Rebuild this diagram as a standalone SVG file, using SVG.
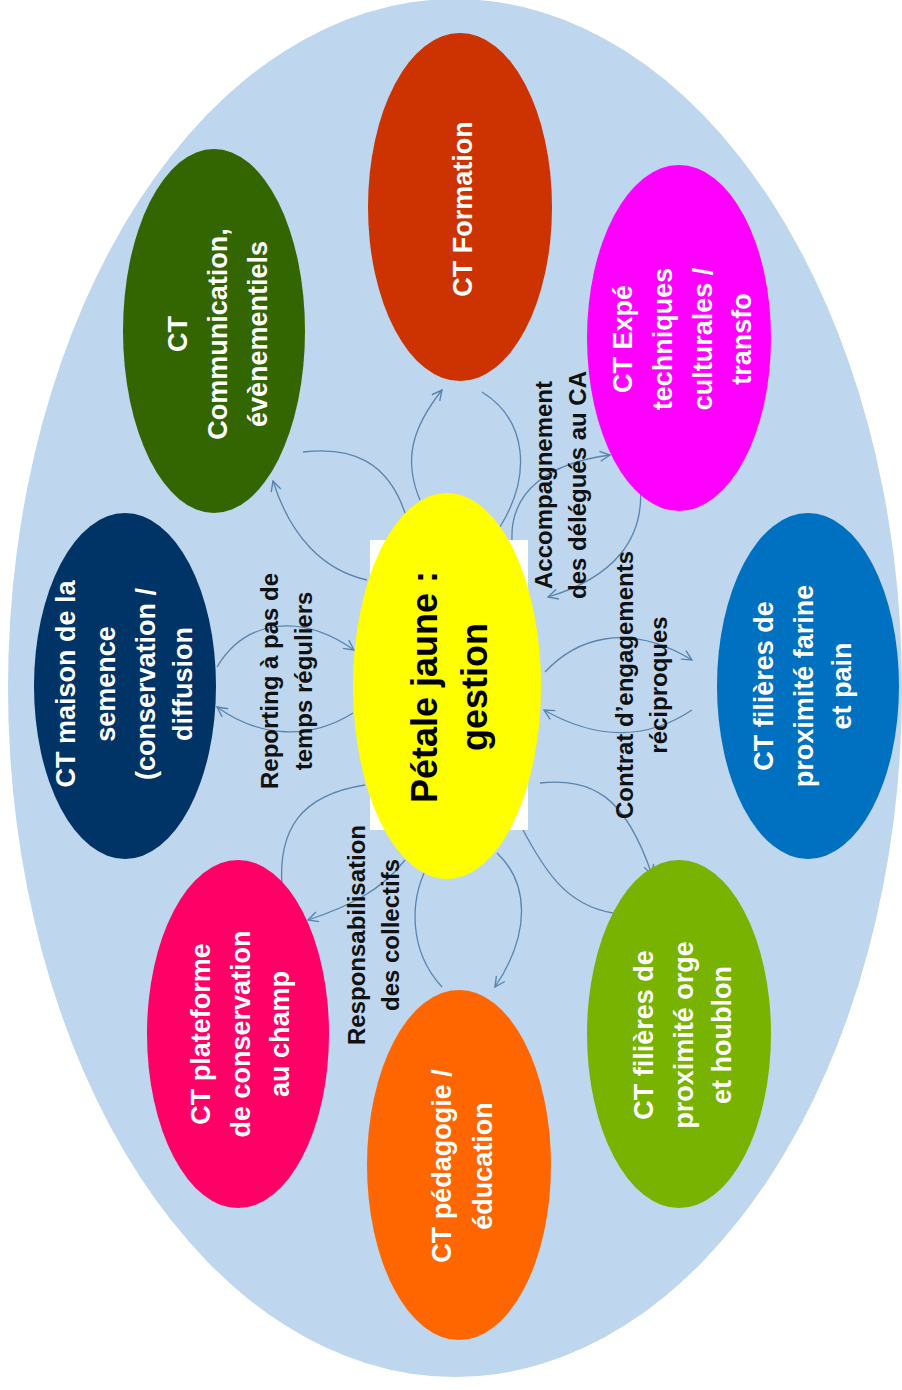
<svg xmlns="http://www.w3.org/2000/svg" width="902" height="1390" viewBox="0 0 902 1390">
<defs>
<marker id="arr" viewBox="0 0 12 12" refX="11" refY="6" markerWidth="12" markerHeight="12" markerUnits="userSpaceOnUse" orient="auto">
<path d="M1,1 L11,6 L1,11" fill="none" stroke="#5b84ad" stroke-width="1.4"/>
</marker>
<style>
.n{font-family:"Liberation Sans",Arial,sans-serif;font-weight:bold;font-size:27px;fill:#ffffff;text-anchor:middle}
.l{font-family:"Liberation Sans",Arial,sans-serif;font-weight:bold;font-size:24px;fill:#111111;text-anchor:middle}
.c{font-family:"Liberation Sans",Arial,sans-serif;font-weight:bold;font-size:36px;fill:#000000;text-anchor:middle}
.e{fill:none;stroke:#5b84ad;stroke-width:1.3}
.a{marker-end:url(#arr)}
</style>
</defs>
<rect x="0" y="0" width="902" height="1390" fill="#ffffff"/>
<ellipse id="background" cx="455" cy="688" rx="447" ry="689" fill="#bed6ee"/>
<g id="connectors">
<path class="e a" d="M367,580 C322,570 290,535 273,481"/>
<path class="e" d="M303,452 C352,446 388,462 405,513"/>
<path class="e a" d="M420,500 C403,460 412,428 442,390"/>
<path class="e" d="M482,392 C527,420 532,475 500,527"/>
<path class="e a" d="M512,540 C510,490 550,463 610,455"/>
<path class="e a" d="M640,483 C646,540 612,578 548,597"/>
<path class="e a" d="M545,672 C575,640 625,620 692,660"/>
<path class="e a" d="M692,710 C650,738 600,742 544,710"/>
<path class="e a" d="M540,783 C592,778 625,795 652,875"/>
<path class="e" d="M613,913 C565,905 545,872 515,815"/>
<path class="e a" d="M497,853 C528,882 532,932 495,987"/>
<path class="e" d="M442,987 C408,950 410,900 427,867"/>
<path class="e a" d="M405,860 C382,890 350,906 308,920"/>
<path class="e" d="M282,887 C278,830 300,795 365,785"/>
<path class="e a" d="M217,667 C245,620 300,612 354,650"/>
<path class="e a" d="M353,713 C310,740 260,738 217,707"/>
</g>
<rect x="370" y="540" width="158" height="290" fill="#ffffff"/>
<g id="center">
<ellipse cx="447" cy="686" rx="94" ry="193" fill="#ffff00"/>
<text class="c" transform="translate(437,687) rotate(-90)">Pétale jaune :</text>
<text class="c" transform="translate(487,687) rotate(-90)">gestion</text>
</g>
<g id="formation">
<ellipse cx="460" cy="207" rx="92" ry="174" fill="#cc3300"/>
<text class="n" transform="translate(472,209) rotate(-90)">CT Formation</text>
</g>
<g id="communication">
<ellipse cx="214" cy="331" rx="91" ry="182" fill="#336600"/>
<text class="n" transform="translate(187,334) rotate(-90)">CT</text>
<text class="n" transform="translate(227,334) rotate(-90)">Communication,</text>
<text class="n" transform="translate(267,334) rotate(-90)">évènementiels</text>
</g>
<g id="maison">
<ellipse cx="125" cy="686" rx="91" ry="173" fill="#003366"/>
<text class="n" transform="translate(75,684) rotate(-90)">CT maison de la</text>
<text class="n" transform="translate(115,684) rotate(-90)">semence</text>
<text class="n" transform="translate(155,684) rotate(-90)">(conservation /</text>
<text class="n" transform="translate(192,684) rotate(-90)">diffusion</text>
</g>
<g id="expe">
<ellipse cx="679" cy="338" rx="92" ry="173" fill="#ff00ff"/>
<text class="n" transform="translate(632,339) rotate(-90)">CT Expé</text>
<text class="n" transform="translate(672,339) rotate(-90)">techniques</text>
<text class="n" transform="translate(712,339) rotate(-90)">culturales /</text>
<text class="n" transform="translate(751,339) rotate(-90)">transfo</text>
</g>
<g id="farine">
<ellipse cx="808" cy="686" rx="91" ry="173" fill="#0070c0"/>
<text class="n" transform="translate(773,686) rotate(-90)">CT filières de</text>
<text class="n" transform="translate(813,686) rotate(-90)">proximité farine</text>
<text class="n" transform="translate(851,686) rotate(-90)">et pain</text>
</g>
<g id="orge">
<ellipse cx="679" cy="1034" rx="92" ry="174" fill="#77b300"/>
<text class="n" transform="translate(653,1035) rotate(-90)">CT filières de</text>
<text class="n" transform="translate(693,1035) rotate(-90)">proximité orge</text>
<text class="n" transform="translate(731,1035) rotate(-90)">et houblon</text>
</g>
<g id="pedagogie">
<ellipse cx="459" cy="1165" rx="92" ry="175" fill="#ff6600"/>
<text class="n" transform="translate(451,1166) rotate(-90)">CT pédagogie /</text>
<text class="n" transform="translate(492,1166) rotate(-90)">éducation</text>
</g>
<g id="plateforme">
<ellipse cx="238" cy="1034" rx="91" ry="174" fill="#ff0066"/>
<text class="n" transform="translate(210,1034) rotate(-90)">CT plateforme</text>
<text class="n" transform="translate(250,1034) rotate(-90)">de conservation</text>
<text class="n" transform="translate(289,1034) rotate(-90)">au champ</text>
</g>
<g id="labels">
<text class="l" transform="translate(278,681) rotate(-90)">Reporting à pas de</text>
<text class="l" transform="translate(312,681) rotate(-90)">temps réguliers</text>
<text class="l" transform="translate(552,485) rotate(-90)">Accompagnement</text>
<text class="l" transform="translate(586,485) rotate(-90)">des délégués au CA</text>
<text class="l" transform="translate(633,685) rotate(-90)">Contrat d’engagements</text>
<text class="l" transform="translate(667,685) rotate(-90)">réciproques</text>
<text class="l" transform="translate(365,935) rotate(-90)">Responsabilisation</text>
<text class="l" transform="translate(399,935) rotate(-90)">des collectifs</text>
</g>
</svg>
